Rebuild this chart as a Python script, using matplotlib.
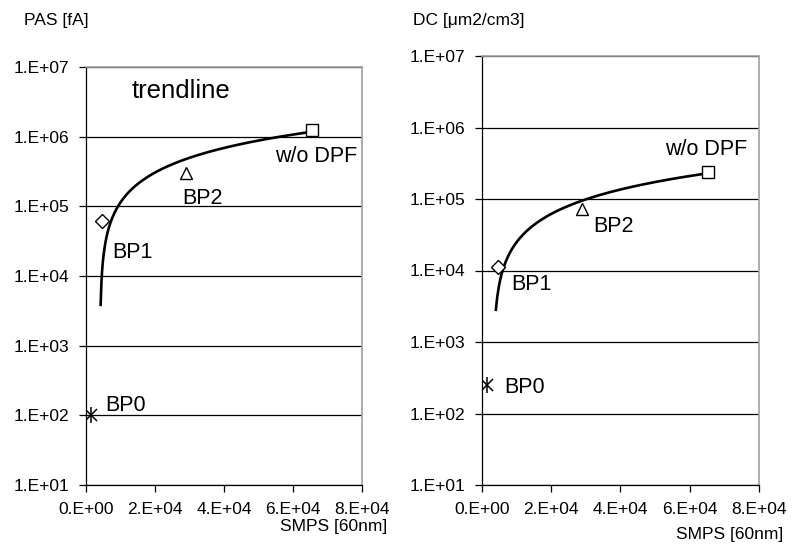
import numpy as np
import matplotlib.pyplot as plt
from matplotlib.ticker import FixedLocator, FuncFormatter

plt.rcParams['font.family'] = ['Liberation Sans', 'DejaVu Sans']

labels = ['BP0', 'BP1', 'BP2', 'w/o DPF']
smps = [1400, 4700, 28900, 65600]
pas = [100, 62000, 305000, 1250000]
smps_dc = [1400, 4800, 28850, 65400]
dc = [250, 11200, 71800, 239000]

# where the drawn part of the excel trendline starts
trend_start = [4250, 4100]

markers = ['x', 'D', '^', 's']
msizes = [9, 7, 9, 8]
pas_offsets = [(14, 10), (10, -32), (-3, -26), (-37, -27)]
dc_offsets = [(18, -2), (13, -18), (12, -17), (-43, 22)]

ylabels = ['PAS [fA]', 'DC [\u03bcm2/cm3]']


def sci(v, pos):
    if v == 0:
        return '0.E+00'
    e = int(np.floor(np.log10(v) + 1e-9))
    m = v / 10**e
    return f'{m:.0f}.E{e:+03d}'


fig = plt.figure(figsize=(7.93, 5.48), dpi=100)
ax1 = fig.add_axes([86/793, 63/548, 276/793, 418/548])
ax2 = fig.add_axes([481.7/793, 63/548, 277.3/793, 429/548])

for ax, xs, ys, offs, x0 in [(ax1, smps, pas, pas_offsets, trend_start[0]),
                             (ax2, smps_dc, dc, dc_offsets, trend_start[1])]:
    ax.set_yscale('log')
    ax.set_xlim(0, 80000)
    ax.set_ylim(10, 1e7)
    ax.yaxis.set_major_locator(FixedLocator([10**k for k in range(1, 8)]))
    ax.yaxis.set_minor_locator(FixedLocator([]))
    ax.xaxis.set_major_locator(FixedLocator([0, 20000, 40000, 60000, 80000]))
    ax.xaxis.set_major_formatter(FuncFormatter(sci))
    ax.yaxis.set_major_formatter(FuncFormatter(sci))
    ax.grid(axis='y', color='black', linewidth=0.9)
    ax.set_axisbelow(True)
    for s in ['top', 'right']:
        ax.spines[s].set_color('#a0a0a0')
        ax.spines[s].set_linewidth(1.2)
    for s in ['left', 'bottom']:
        ax.spines[s].set_color('black')
        ax.spines[s].set_linewidth(0.9)
    ax.tick_params(direction='out', length=5, width=0.9, labelsize=12.5)
    ax.tick_params(axis='x', pad=7)
    ax.tick_params(axis='y', pad=7)

    # linear trendline (like excel)
    k, b = np.polyfit(xs, ys, 1)
    tx = np.linspace(x0, xs[-1], 300)
    ax.plot(tx, k*tx + b, color='black', linewidth=1.9, zorder=3)

    for i in range(len(xs)):
        if markers[i] == 'x':
            ax.plot(xs[i], ys[i], marker='x', ms=msizes[i], mew=1.1, color='black', zorder=4)
            ax.plot(xs[i], ys[i], marker='|', ms=msizes[i] + 2, mew=1.1, color='black', zorder=4)
        else:
            ax.plot(xs[i], ys[i], marker=markers[i], ms=msizes[i], mew=1,
                    mfc='white', mec='black', linestyle='none', zorder=4)
        ax.annotate(labels[i], (xs[i], ys[i]), xytext=offs[i], textcoords='offset pixels',
                    fontsize=15.5, ha='left', va='center')

    ax.set_xlabel('SMPS [60nm]', fontsize=12.5)

fig.text(24/793, 1 - 21/548, ylabels[0], fontsize=12.5, ha='left', va='center')
fig.text(413/793, 1 - 20/548, ylabels[1], fontsize=12.5, ha='left', va='center')

ax1.xaxis.set_label_coords(387/793, 1 - 526/548, transform=fig.transFigure)
ax1.xaxis.label.set_ha('right')
ax1.xaxis.label.set_va('center')
ax2.xaxis.set_label_coords(783/793, 1 - 535/548, transform=fig.transFigure)
ax2.xaxis.label.set_ha('right')
ax2.xaxis.label.set_va('center')

ax1.text(132/793, 1 - 91/548, 'trendline', transform=fig.transFigure, fontsize=18.5,
         ha='left', va='center')

plt.savefig('out.png', dpi=100)
plt.close()
